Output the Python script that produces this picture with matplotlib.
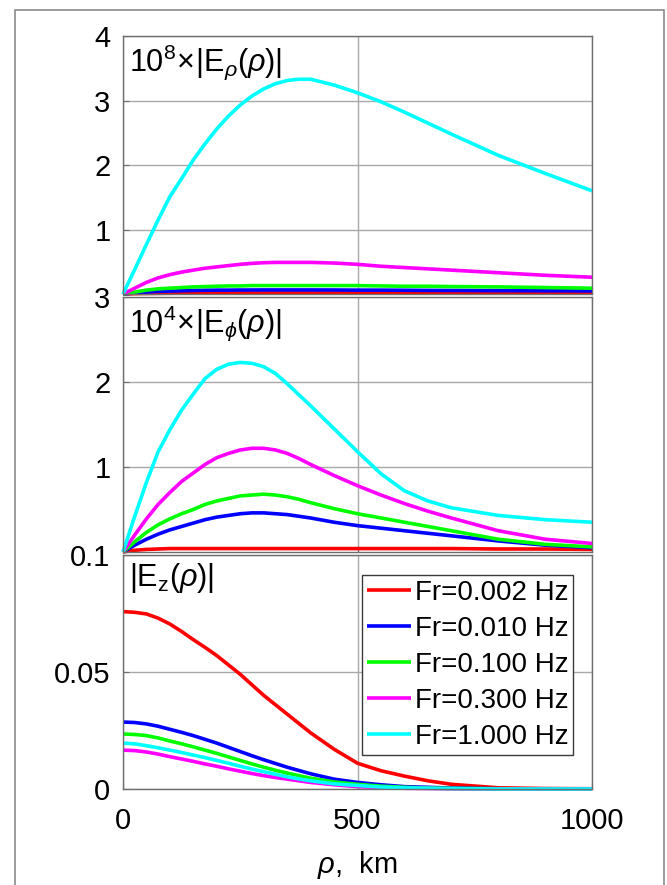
import numpy as np
import matplotlib
matplotlib.use('Agg')
import matplotlib.pyplot as plt
from matplotlib.patches import Rectangle

plt.rcParams['font.family'] = ['Liberation Sans', 'DejaVu Sans']
plt.rcParams['mathtext.fontset'] = 'custom'
plt.rcParams['mathtext.rm'] = 'Liberation Sans'
plt.rcParams['mathtext.it'] = 'Liberation Sans:italic'

# distance, km
rho = [0, 25, 50, 75, 100, 125, 150, 175, 200, 225, 250, 275, 300, 325, 350, 375, 400,
       450, 500, 550, 600, 650, 700, 800, 900, 1000]
labels = ['Fr=0.002 Hz', 'Fr=0.010 Hz', 'Fr=0.100 Hz', 'Fr=0.300 Hz', 'Fr=1.000 Hz']
colors = ['#ff0000', '#0000ff', '#00ff00', '#ff00ff', '#00ffff']

# 10^8 x |E_rho|
e_rho = [
    [0, 0.005, 0.008, 0.010, 0.012, 0.013, 0.014, 0.015, 0.015, 0.016, 0.016, 0.016, 0.016, 0.016, 0.016, 0.016, 0.016,
     0.016, 0.016, 0.015, 0.015, 0.015, 0.014, 0.014, 0.013, 0.013],
    [0, 0.015, 0.03, 0.04, 0.045, 0.05, 0.055, 0.058, 0.06, 0.06, 0.062, 0.062, 0.063, 0.063, 0.063, 0.063, 0.063,
     0.062, 0.06, 0.06, 0.058, 0.056, 0.055, 0.052, 0.05, 0.048],
    [0, 0.03, 0.06, 0.08, 0.09, 0.10, 0.11, 0.115, 0.12, 0.125, 0.125, 0.13, 0.13, 0.13, 0.13, 0.13, 0.13,
     0.13, 0.13, 0.125, 0.12, 0.12, 0.115, 0.11, 0.10, 0.09],
    [0, 0.09, 0.18, 0.25, 0.30, 0.34, 0.37, 0.40, 0.42, 0.44, 0.46, 0.475, 0.485, 0.49, 0.49, 0.49, 0.49,
     0.48, 0.46, 0.43, 0.41, 0.39, 0.37, 0.33, 0.29, 0.26],
    [0, 0.38, 0.77, 1.15, 1.51, 1.79, 2.08, 2.33, 2.56, 2.76, 2.93, 3.07, 3.18, 3.26, 3.31, 3.33, 3.33,
     3.24, 3.12, 2.98, 2.82, 2.65, 2.48, 2.15, 1.87, 1.60],
]
# 10^4 x |E_phi|
e_phi = [
    [0, 0.02, 0.03, 0.035, 0.04, 0.04, 0.04, 0.04, 0.04, 0.04, 0.04, 0.04, 0.04, 0.04, 0.04, 0.04, 0.04,
     0.04, 0.04, 0.04, 0.04, 0.04, 0.04, 0.035, 0.035, 0.03],
    [0, 0.08, 0.15, 0.21, 0.26, 0.30, 0.34, 0.38, 0.41, 0.43, 0.45, 0.46, 0.46, 0.45, 0.44, 0.42, 0.40,
     0.35, 0.31, 0.28, 0.25, 0.22, 0.19, 0.13, 0.08, 0.05],
    [0, 0.12, 0.23, 0.32, 0.39, 0.45, 0.50, 0.56, 0.60, 0.63, 0.66, 0.67, 0.68, 0.67, 0.65, 0.62, 0.58,
     0.51, 0.45, 0.40, 0.35, 0.30, 0.25, 0.15, 0.09, 0.06],
    [0, 0.20, 0.39, 0.56, 0.70, 0.83, 0.93, 1.03, 1.11, 1.16, 1.20, 1.22, 1.22, 1.20, 1.16, 1.10, 1.03,
     0.90, 0.78, 0.67, 0.57, 0.48, 0.40, 0.25, 0.15, 0.10],
    [0, 0.42, 0.82, 1.18, 1.44, 1.67, 1.86, 2.04, 2.15, 2.21, 2.23, 2.22, 2.18, 2.10, 1.98, 1.85, 1.72,
     1.45, 1.18, 0.92, 0.72, 0.60, 0.52, 0.43, 0.38, 0.35],
]
# |E_z|
e_z = [
    [0.0758, 0.0755, 0.0748, 0.0730, 0.0705, 0.0673, 0.0638, 0.0605, 0.0570, 0.0530, 0.0490, 0.0445, 0.0400,
     0.0360, 0.0320, 0.0280, 0.0240, 0.0170, 0.0110, 0.0078, 0.0055, 0.0035, 0.0020, 0.0005, 0.0002, 0.0001],
    [0.0286, 0.0284, 0.0278, 0.0268, 0.0255, 0.0242, 0.0228, 0.0212, 0.0196, 0.0178, 0.0160, 0.0142, 0.0125,
     0.0109, 0.0093, 0.0079, 0.0065, 0.0042, 0.0028, 0.0018, 0.0010, 0.0007, 0.0004, 0.0001, 0, 0],
    [0.0235, 0.0233, 0.0228, 0.0218, 0.0205, 0.0193, 0.0180, 0.0166, 0.0152, 0.0137, 0.0122, 0.0107, 0.0093,
     0.0080, 0.0068, 0.0057, 0.0046, 0.0030, 0.0020, 0.0012, 0.0007, 0.0004, 0.0002, 0.0001, 0, 0],
    [0.0166, 0.0164, 0.0158, 0.0149, 0.0138, 0.0128, 0.0118, 0.0107, 0.0097, 0.0086, 0.0076, 0.0066, 0.0057,
     0.0049, 0.0042, 0.0035, 0.0028, 0.0018, 0.0010, 0.0006, 0.0003, 0.0002, 0.0001, 0, 0, 0],
    [0.0196, 0.0193, 0.0185, 0.0176, 0.0166, 0.0156, 0.0145, 0.0134, 0.0122, 0.0110, 0.0097, 0.0085, 0.0074,
     0.0063, 0.0052, 0.0043, 0.0035, 0.0022, 0.0015, 0.0008, 0.0005, 0.0003, 0.0002, 0, 0, 0],
]

fig = plt.figure(figsize=(6.67, 8.85), dpi=100)
fig.patches.append(Rectangle((15/667, -0.1), (664-15)/667, 1.1 - 10/885, transform=fig.transFigure,
                             fill=False, edgecolor='#8a8a8a', lw=1.2))

ax1 = fig.add_axes([0.1844, 0.6678, 0.7032, 0.2915])
ax2 = fig.add_axes([0.1844, 0.3763, 0.7032, 0.2881])
ax3 = fig.add_axes([0.1844, 0.1085, 0.7032, 0.2644])

panels = [(ax1, e_rho, (0, 4), [1, 2, 3, 4], ['1', '2', '3', '4'], r'$10^{8}\!\times\!|\mathrm{E}_{\rho}(\rho)|$'),
          (ax2, e_phi, (0, 3), [1, 2, 3], ['1', '2', '3'], r'$10^{4}\!\times\!|\mathrm{E}_{\phi}(\rho)|$'),
          (ax3, e_z, (0, 0.1), [0, 0.05, 0.1], ['0', '0.05', '0.1'], r'$|\mathrm{E}_{\mathrm{z}}(\rho)|$')]

for ax, data, ylim, yt, ytl, title in panels:
    for vals, c, lab in zip(data, colors, labels):
        ax.plot(rho, vals, color=c, lw=2.6, label=lab, clip_on=False, solid_capstyle='butt')
    ax.set_xlim(0, 1000)
    ax.set_ylim(*ylim)
    ax.set_yticks(yt)
    ax.set_yticklabels(ytl)
    ax.set_xticks([0, 500, 1000])
    ax.grid(True, color='#a8a8a8', lw=1.0)
    ax.set_axisbelow(True)
    ax.tick_params(direction='in', length=4, labelsize=21, colors='#6e6e6e', labelcolor='black')
    ax.tick_params(axis='y', pad=9)
    ax.tick_params(axis='x', pad=13)
    for s in ax.spines.values():
        s.set_color('#6e6e6e')
        s.set_linewidth(1.0)
    ax.text(0.012, 0.975, title, transform=ax.transAxes, ha='left', va='top', fontsize=22)

ax1.tick_params(labelbottom=False)
ax2.tick_params(labelbottom=False)
ax3.set_xlabel(r'$\rho$,  km', fontsize=21, labelpad=10)

leg = ax3.legend(loc='upper right', bbox_to_anchor=(0.96, 0.915), fontsize=20, frameon=True,
                 fancybox=False, framealpha=1, edgecolor='#3a3a3a', handlelength=1.6,
                 handletextpad=0.12, labelspacing=0.36, borderpad=0.18, borderaxespad=0)
leg.get_frame().set_linewidth(1.0)

plt.savefig('out.png', dpi=100)
